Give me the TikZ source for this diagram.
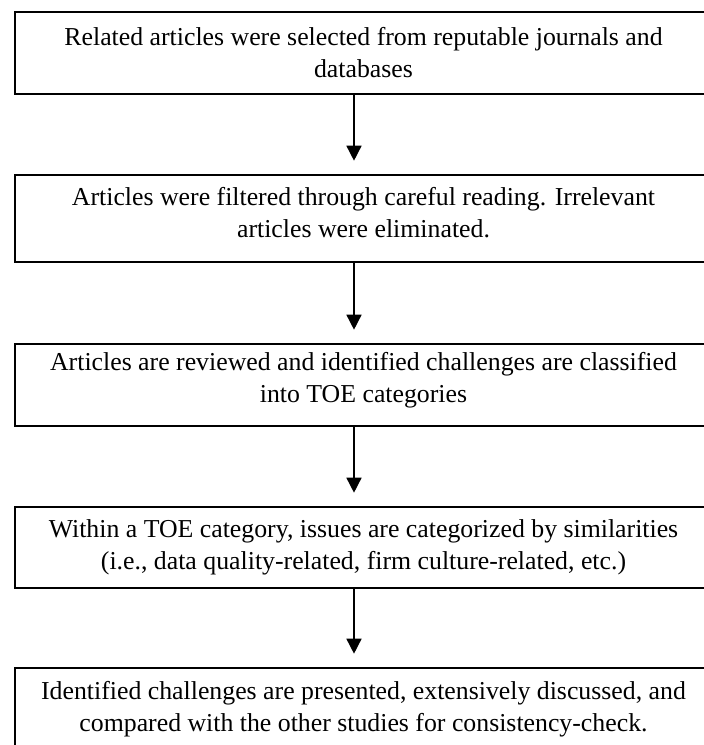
\documentclass[tikz,border=0pt]{standalone}
\usepackage{fontspec}
\setmainfont{Liberation Serif}
\usetikzlibrary{arrows.meta}
\begin{document}
\begin{tikzpicture}[x=1pt,y=-1pt,
  stepbox/.style={draw=black, line width=2.6pt, minimum width=697pt, inner sep=0pt,
     align=center, font=\fontsize{25.8}{32}\selectfont},
  flow/.style={draw=black, line width=1.5pt, -{Triangle[width=15pt,length=15pt]}, shorten >=13pt}]
\useasboundingbox (0,0) rectangle (704,745);
\node[stepbox, minimum height=82pt] (b1) at (363.5,53) {Related articles were selected from reputable journals and\\databases};
\node[stepbox, minimum height=87pt, text depth=12pt] (b2) at (363.5,218.5) {Articles were filtered through careful reading. Irrelevant\\articles were eliminated.};
\node[stepbox, minimum height=82pt, text depth=15pt] (b3) at (363.5,385) {Articles are reviewed and identified challenges are classified\\into TOE categories};
\node[stepbox, minimum height=81pt] (b4) at (363.5,547.5) {Within a TOE category, issues are categorized by similarities\\(i.e., data quality-related, firm culture-related, etc.)};
\node[stepbox, minimum height=82pt] (b5) at (363.5,709) {Identified challenges are presented, extensively discussed, and\\compared with the other studies for consistency-check.};
\draw[flow] ([xshift=-9.5pt]b1.south) -- ([xshift=-9.5pt]b2.north);
\draw[flow] ([xshift=-9.5pt]b2.south) -- ([xshift=-9.5pt]b3.north);
\draw[flow] ([xshift=-9.5pt]b3.south) -- ([xshift=-9.5pt]b4.north);
\draw[flow] ([xshift=-9.5pt]b4.south) -- ([xshift=-9.5pt]b5.north);
\end{tikzpicture}
\end{document}
